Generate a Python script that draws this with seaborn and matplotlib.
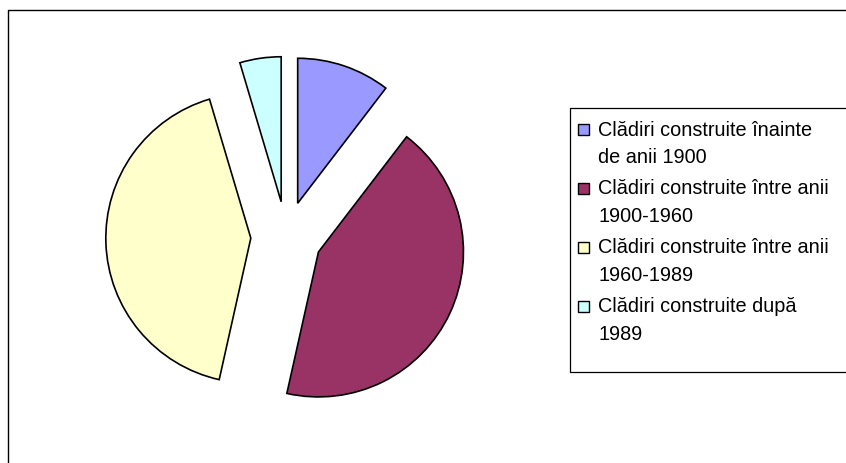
import matplotlib
matplotlib.use("Agg")
import matplotlib.pyplot as plt
import seaborn as sns
from matplotlib.patches import Rectangle

# Shares of buildings by construction period (in %)
categories = [
    "Clădiri construite înainte\nde anii 1900",
    "Clădiri construite între anii\n1900-1960",
    "Clădiri construite între anii\n1960-1989",
    "Clădiri construite după\n1989",
]
shares = [10.4, 43.1, 41.9, 4.6]
colors = ["#9999FF", "#993366", "#FFFFCC", "#CCFFFF"]

sns.set_theme(style="white")
plt.rcParams["font.family"] = ["Liberation Sans", "DejaVu Sans"]

W, H = 846, 464
fig = plt.figure(figsize=(W / 100, H / 100), dpi=100)
ax = fig.add_axes([0, 0, 1, 1])

# pie in pixel-like data units (y measured from the bottom)
cx, cy, r = 286.3, H - 237.9, 145
wedges, _ = ax.pie(shares, colors=colors, startangle=90, counterclock=False,
                   center=(cx, cy), radius=r, explode=[35.5] * len(shares),
                   wedgeprops=dict(edgecolor="black", linewidth=1.2))
ax.set_xlim(0, W)
ax.set_ylim(0, H)
ax.set_aspect("equal")
ax.axis("off")

# outer chart frame (only left and top edges visible)
ax.plot([8, 8, W + 5], [-5, H - 11, H - 11], color="black", lw=1.0, clip_on=False)

# legend box drawn by hand so the key sits on the first line of each label
ax.add_patch(Rectangle((570, H - 373), 300, 264, facecolor="white",
                       edgecolor="black", lw=0.9, clip_on=True))
first_base = 135.5
for i, (lab, col) in enumerate(zip(categories, colors)):
    base = first_base + i * 59
    ax.add_patch(Rectangle((577.5, H - base), 11, 11, facecolor=col,
                           edgecolor="black", lw=1.0))
    for j, line in enumerate(lab.split("\n")):
        ax.text(598, H - (base + j * 27.5), line, fontsize=14.3, va="baseline",
                ha="left", color="black")

fig.savefig("out.png", dpi=100)
